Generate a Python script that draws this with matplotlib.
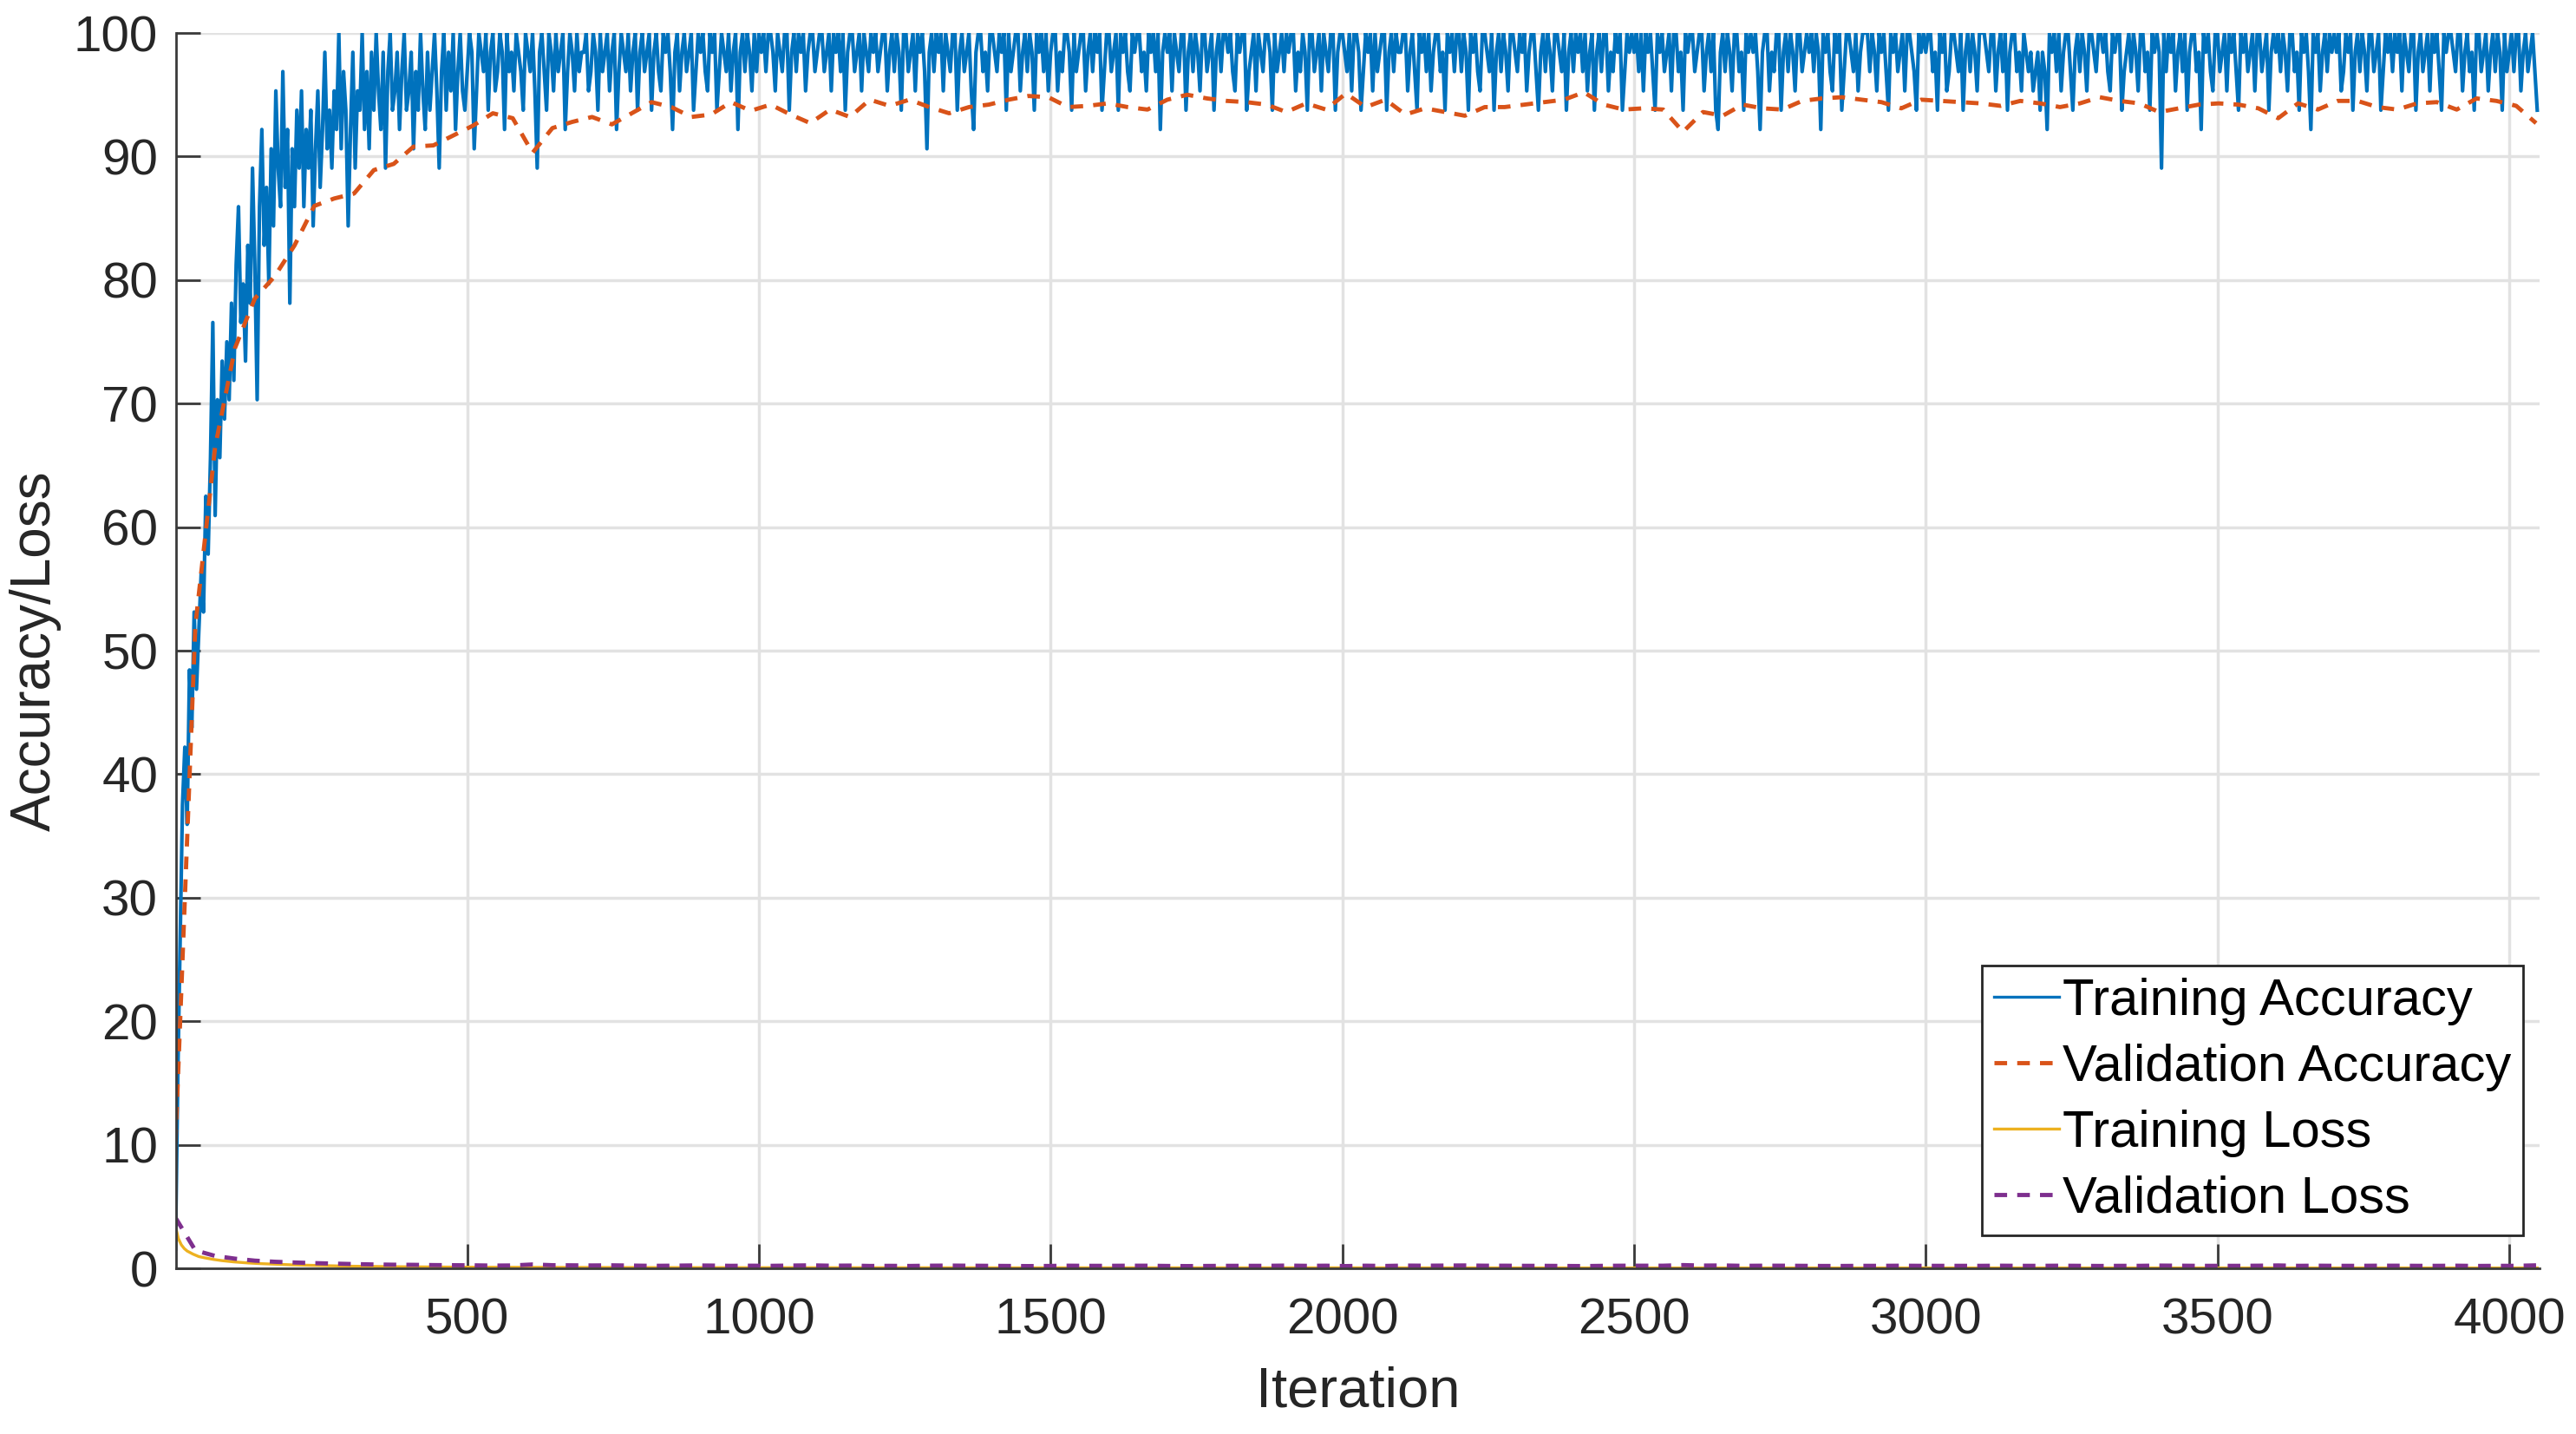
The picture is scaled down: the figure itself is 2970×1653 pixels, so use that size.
import numpy as np
import matplotlib
matplotlib.use("Agg")
import matplotlib.pyplot as plt

plt.rcParams["font.family"] = ["Liberation Sans", "DejaVu Sans"]

# --- data ---
# training accuracy as correct predictions per minibatch of 64, every 4 iterations
minibatch = 64
train_step = 4
train_correct_0_496 = [
    1, 10, 17, 24, 27, 23, 31, 28, 34, 30, 33, 36, 34, 40, 37, 42, 49, 39, 45, 42, 47, 44, 48, 45, 50,
    46, 52, 55, 49, 51, 47, 53, 50, 57, 52, 45, 55, 59, 53, 56, 51, 58, 54, 61, 57, 55, 62, 56, 59, 50,
    58, 55, 60, 57, 61, 55, 59, 57, 60, 54, 58, 61, 56, 59, 63, 58, 60, 57, 61, 59, 64, 58, 62, 60, 54,
    59, 63, 57, 61, 60, 64, 59, 62, 58, 63, 60, 64, 61, 59, 63, 57, 62, 64, 60, 61, 63, 59, 62, 64, 60,
    61, 63, 58, 62, 60, 64, 61, 59, 63, 60, 62, 64, 61, 57, 62, 64, 60, 63, 61, 64, 59, 62, 64, 61, 60,
]
train_correct_500_996 = [
    62, 64, 63, 58, 61, 64, 63, 62, 64, 60, 63, 64, 61, 62, 64, 63, 59, 64, 62, 63, 61, 64, 63, 62, 60,
    64, 63, 62, 64, 61, 57, 63, 64, 62, 60, 64, 63, 61, 64, 62, 63, 64, 59, 62, 64, 63, 61, 64, 62, 63,
    63, 64, 61, 62, 64, 63, 60, 64, 62, 63, 64, 61, 63, 64, 59, 62, 64, 63, 62, 64, 61, 63, 64, 60, 63,
    64, 62, 63, 64, 60, 63, 64, 62, 61, 64, 63, 64, 62, 59, 63, 64, 61, 63, 64, 62, 63, 64, 60, 62, 64,
    63, 64, 62, 61, 64, 63, 64, 60, 62, 64, 63, 62, 64, 61, 63, 64, 59, 63, 64, 62, 64, 63, 61, 64, 62,
]
train_correct_1000_4048 = [
    64, 63, 64, 62, 64, 64, 63, 61, 64, 63, 62, 64, 64, 60, 63, 64, 62, 64, 63, 64, 61, 63, 64, 64, 62,
    63, 64, 64, 62, 63, 64, 61, 64, 63, 64, 62, 64, 60, 63, 64, 64, 62, 63, 64, 61, 64, 63, 62, 64, 63,
    64, 62, 63, 64, 64, 61, 63, 64, 62, 64, 63, 60, 64, 64, 62, 63, 64, 61, 64, 63, 64, 62, 58, 63, 64,
    62, 64, 63, 64, 61, 64, 63, 62, 64, 64, 60, 63, 64, 62, 63, 64, 61, 59, 63, 64, 64, 62, 63, 61, 64,
    64, 63, 62, 64, 63, 64, 60, 64, 62, 63, 64, 64, 61, 63, 64, 62, 64, 63, 60, 64, 63, 64, 62, 64, 61,
    63, 64, 64, 61, 63, 62, 64, 64, 63, 60, 64, 62, 63, 64, 64, 61, 63, 64, 62, 64, 63, 64, 60, 62, 64,
    64, 62, 63, 64, 60, 64, 63, 64, 62, 61, 64, 63, 64, 64, 62, 63, 61, 64, 63, 64, 62, 64, 59, 63, 64,
    63, 64, 61, 64, 63, 62, 64, 64, 60, 63, 64, 62, 64, 63, 61, 64, 64, 62, 63, 64, 60, 63, 64, 62, 64,
    64, 63, 64, 62, 61, 64, 63, 64, 64, 60, 62, 63, 64, 61, 64, 63, 62, 64, 64, 63, 60, 64, 62, 63, 64,
    62, 64, 63, 64, 64, 61, 63, 62, 64, 63, 60, 64, 64, 62, 63, 64, 61, 64, 63, 62, 64, 64, 60, 63, 64,
    64, 63, 62, 64, 61, 64, 64, 63, 60, 62, 64, 63, 64, 61, 64, 62, 63, 64, 64, 60, 63, 64, 62, 64, 63,
    63, 64, 64, 61, 63, 64, 62, 60, 64, 63, 64, 62, 64, 61, 63, 64, 64, 62, 63, 60, 64, 63, 64, 62, 64,
    64, 62, 64, 63, 60, 64, 63, 64, 62, 61, 64, 64, 63, 62, 64, 60, 63, 64, 62, 64, 63, 61, 64, 64, 63,
    62, 64, 63, 64, 61, 63, 64, 64, 62, 60, 63, 64, 62, 64, 63, 61, 64, 64, 63, 62, 64, 60, 63, 64, 62,
    64, 63, 64, 62, 64, 61, 63, 64, 60, 63, 64, 62, 64, 64, 61, 63, 62, 64, 63, 64, 60, 62, 64, 63, 64,
    63, 64, 62, 64, 61, 64, 63, 64, 62, 60, 64, 63, 64, 62, 63, 64, 61, 64, 64, 62, 63, 60, 64, 63, 64,
    64, 62, 63, 64, 64, 61, 63, 64, 62, 64, 60, 59, 63, 64, 62, 64, 63, 61, 64, 64, 62, 63, 60, 64, 63,
    64, 63, 64, 62, 59, 63, 64, 64, 61, 63, 62, 64, 64, 60, 63, 64, 62, 64, 63, 61, 64, 64, 62, 63, 64,
    63, 64, 62, 64, 63, 59, 64, 63, 64, 62, 61, 64, 63, 64, 60, 62, 64, 64, 63, 62, 64, 61, 63, 64, 64,
    64, 62, 64, 63, 61, 64, 63, 64, 62, 60, 64, 63, 64, 62, 63, 64, 61, 64, 64, 63, 62, 60, 64, 63, 64,
    63, 64, 64, 62, 63, 60, 64, 63, 64, 61, 62, 64, 64, 63, 62, 64, 60, 63, 64, 62, 64, 63, 61, 64, 64,
    64, 63, 62, 64, 64, 61, 63, 64, 62, 64, 60, 63, 64, 64, 62, 63, 61, 64, 63, 62, 63, 61, 62, 63, 60,
    63, 62, 59, 64, 63, 64, 62, 64, 61, 63, 64, 64, 62, 60, 63, 64, 62, 64, 63, 61, 64, 64, 63, 62, 64,
    64, 63, 64, 62, 61, 64, 63, 64, 64, 60, 62, 63, 64, 62, 64, 63, 61, 64, 64, 62, 63, 60, 64, 63, 64,
    63, 57, 64, 62, 64, 63, 64, 61, 63, 64, 62, 64, 60, 63, 64, 64, 62, 63, 59, 64, 63, 64, 62, 61, 64,
    64, 62, 63, 64, 61, 64, 63, 64, 62, 60, 64, 63, 64, 62, 63, 64, 61, 64, 64, 62, 63, 64, 60, 63, 64,
    63, 64, 62, 64, 63, 61, 64, 64, 62, 63, 60, 64, 63, 64, 62, 59, 64, 63, 64, 61, 63, 64, 62, 64, 63,
    64, 63, 64, 61, 62, 64, 63, 64, 60, 63, 64, 62, 64, 63, 61, 64, 64, 62, 63, 64, 60, 62, 64, 63, 64,
    62, 64, 63, 64, 61, 64, 63, 62, 64, 64, 60, 63, 64, 62, 63, 64, 61, 64, 63, 64, 62, 60, 64, 63, 64,
    64, 63, 62, 64, 64, 61, 63, 64, 62, 63, 60, 64, 64, 62, 63, 64, 61, 63, 64, 62, 64, 63, 60, 64, 62,
    63, 64, 62, 64, 64, 61, 63, 64, 62, 63, 64, 62, 60,
]

# validation accuracy / loss, evaluated every 34 iterations
val_step = 34
val_acc = [
    10.2, 52.0, 66.5, 74.5, 78.5, 80.3, 82.8, 86.0, 86.6, 87.0,
    88.9, 89.4, 90.8, 90.9, 91.7, 92.5, 93.5, 93.1, 90.3, 92.3,
    92.8, 93.2, 92.6, 93.5, 94.4, 94.0, 93.2, 93.4, 94.4, 93.7,
    94.2, 93.4, 92.7, 93.8, 93.2, 94.6, 94.1, 94.6, 94.0, 93.5,
    94.0, 94.2, 94.6, 94.9, 94.8, 94.0, 94.1, 94.3, 94.0, 93.8,
    94.6, 95.0, 94.7, 94.5, 94.4, 94.2, 93.6, 94.3, 93.8, 95.1,
    94.0, 94.6, 93.4, 93.9, 93.6, 93.3, 94.0, 94.0, 94.2, 94.4,
    94.6, 95.2, 94.2, 93.8, 93.9, 93.8, 92.0, 93.6, 93.3, 94.2,
    93.9, 93.8, 94.5, 94.7, 94.8, 94.6, 94.4, 93.9, 94.6, 94.5,
    94.4, 94.3, 94.1, 94.5, 94.3, 94.0, 94.3, 94.8, 94.5, 94.3,
    93.6, 93.9, 94.2, 94.3, 94.2, 93.9, 93.1, 94.3, 93.8, 94.5,
    94.5, 94.0, 93.8, 94.3, 94.4, 93.8, 94.7, 94.5, 94.1, 92.7,
]
val_loss = [
    4.1, 1.45, 1.0, 0.78, 0.62, 0.53, 0.47, 0.42, 0.38, 0.34,
    0.31, 0.29, 0.28, 0.26, 0.25, 0.24, 0.22, 0.23, 0.31, 0.25,
    0.24, 0.23, 0.24, 0.22, 0.2, 0.21, 0.23, 0.22, 0.2, 0.21,
    0.2, 0.22, 0.24, 0.21, 0.22, 0.19, 0.2, 0.19, 0.21, 0.22,
    0.21, 0.2, 0.19, 0.18, 0.19, 0.21, 0.2, 0.2, 0.21, 0.21,
    0.19, 0.18, 0.19, 0.2, 0.2, 0.2, 0.22, 0.2, 0.21, 0.18,
    0.21, 0.19, 0.22, 0.21, 0.22, 0.23, 0.21, 0.21, 0.2, 0.2,
    0.19, 0.18, 0.2, 0.21, 0.21, 0.21, 0.26, 0.22, 0.23, 0.2,
    0.21, 0.21, 0.2, 0.19, 0.19, 0.2, 0.2, 0.21, 0.2, 0.2,
    0.2, 0.2, 0.21, 0.2, 0.2, 0.21, 0.2, 0.19, 0.2, 0.2,
    0.22, 0.21, 0.2, 0.2, 0.2, 0.21, 0.23, 0.2, 0.21, 0.2,
    0.2, 0.21, 0.21, 0.2, 0.2, 0.21, 0.19, 0.2, 0.2, 0.24,
]

# training loss (smooth at this scale)
train_loss_iter = [0, 5, 10, 15, 20, 30, 40, 50, 65, 80, 100, 125, 150, 200,
                   250, 300, 400, 500, 600, 800, 1000, 1500, 2000, 2500, 3000, 3500, 4048]
train_loss = [3.4, 2.4, 1.9, 1.6, 1.4, 1.15, 0.95, 0.85, 0.72, 0.62, 0.52, 0.43, 0.37, 0.28,
              0.22, 0.17, 0.12, 0.09, 0.08, 0.06, 0.05, 0.04, 0.04, 0.03, 0.03, 0.03, 0.03]

x_ticks = [500, 1000, 1500, 2000, 2500, 3000, 3500, 4000]
y_ticks = list(range(0, 101, 10))

train_correct = np.array(train_correct_0_496 + train_correct_500_996 + train_correct_1000_4048)
train_acc = 100 * train_correct / minibatch
train_iter = np.arange(len(train_acc)) * train_step
val_iter = np.arange(len(val_acc)) * val_step

# --- plot ---
W, H = 2970, 1653
fig = plt.figure(figsize=(W / 100, H / 100), dpi=100)
ax = fig.add_axes([203 / W, 191 / H, 2725 / W, 1424 / H])

blue, orange, yellow, purple = "#0072BD", "#D95319", "#EDB120", "#7E2F8E"
ax.plot(train_iter, train_acc, color=blue, lw=3.0, label="Training Accuracy")
ax.plot(val_iter, val_acc, "--", color=orange, lw=3.5, dashes=(3.0, 2.4),
        label="Validation Accuracy")
ax.plot(train_loss_iter, train_loss, color=yellow, lw=2.4, label="Training Loss")
ax.plot(val_iter, val_loss, "--", color=purple, lw=3.5, dashes=(3.0, 2.4),
        label="Validation Loss")

ax.set_xlim(1, 4052)
ax.set_ylim(0, 100)
ax.set_xticks(x_ticks)
ax.set_yticks(y_ticks)

ax.grid(True, color="#e2e2e2", lw=2.5)
ax.set_axisbelow(True)
for s in ("top", "right"):
    ax.spines[s].set_visible(False)
for s in ("left", "bottom"):
    ax.spines[s].set_color("#3a3a3a")
    ax.spines[s].set_linewidth(2.0)

ax.tick_params(axis="both", direction="in", length=20, width=2.0,
               colors="#3a3a3a", labelcolor="#262626", labelsize=42)
ax.tick_params(axis="x", pad=24)
ax.tick_params(axis="y", pad=15)

ax.set_xlabel("Iteration", fontsize=47, color="#262626", labelpad=18)
ax.set_ylabel("Accuracy/Loss", fontsize=46, color="#262626", labelpad=10)

leg = ax.legend(loc="lower right", bbox_to_anchor=(0.993, 0.027), borderaxespad=0,
                fontsize=43, handlelength=1.25, handletextpad=0.07,
                labelspacing=0.35, borderpad=0.23, fancybox=False, framealpha=1)
leg.get_frame().set_edgecolor("#262626")
leg.get_frame().set_linewidth(2.0)
for h in leg.get_lines():
    h.set_linewidth(2.4 if h.get_linestyle() == "-" else 3.5)

fig.savefig("out.png", dpi=100)
